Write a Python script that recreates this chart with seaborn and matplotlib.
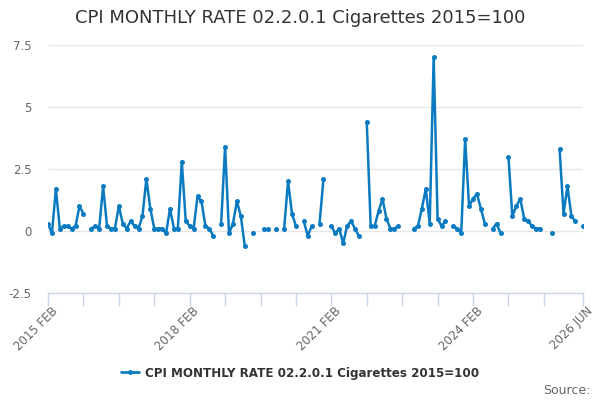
import numpy as np
import pandas as pd
import matplotlib
matplotlib.use("Agg")
import matplotlib.pyplot as plt
import matplotlib.transforms as mtransforms
from matplotlib.lines import Line2D
import seaborn as sns

# ---- data ----
series_name = "CPI MONTHLY RATE 02.2.0.1 Cigarettes 2015=100"
months = pd.period_range("2015-02", "2026-06", freq="M")
month_labels = [p.strftime("%Y %b").upper() for p in months]
nan = np.nan
values = [
    0.3, -0.1, 1.7, 0.1, 0.2, 0.2, 0.1, 0.2, 1.0, 0.7,      # 0-9
    nan, 0.1, 0.2, 0.1, 1.8, 0.2, 0.1, 0.1, 1.0, 0.3,       # 10-19
    0.1, 0.4, 0.2, 0.1, 0.6, 2.1, 0.9, 0.1, 0.1, 0.1,       # 20-29
    -0.1, 0.9, 0.1, 0.1, 2.8, 0.4, 0.2, 0.1, 1.4, 1.2,      # 30-39
    0.2, 0.1, -0.2, nan, 0.3, 3.4, -0.1, 0.3, 1.2, 0.6,     # 40-49
    -0.6, nan, -0.1, nan, nan, 0.1, 0.1, nan, 0.1, nan,     # 50-59
    0.1, 2.0, 0.7, 0.2, nan, 0.4, -0.2, 0.2, nan, 0.3,      # 60-69
    2.1, nan, 0.2, -0.1, 0.1, -0.5, 0.2, 0.4, 0.1, -0.2,    # 70-79
    nan, 4.4, 0.2, 0.2, 0.8, 1.3, 0.5, 0.1, 0.1, 0.2,       # 80-89
    nan, nan, nan, 0.1, 0.2, 0.9, 1.7, 0.3, 7.0, 0.5,       # 90-99
    0.2, 0.4, nan, 0.2, 0.1, -0.1, 3.7, 1.0, 1.3, 1.5,      # 100-109
    0.9, 0.3, nan, 0.1, 0.3, -0.1, nan, 3.0, 0.6, 1.0,      # 110-119
    1.3, 0.5, 0.4, 0.2, 0.1, 0.1, nan, nan, -0.1, nan,      # 120-129
    3.3, 0.7, 1.8, 0.6, 0.4, nan, 0.2,                      # 130-136
]
shown_labels = ["2015 FEB", "2018 FEB", "2021 FEB", "2024 FEB", "2026 JUN"]
y_ticks = [-2.5, 0, 2.5, 5, 7.5]
y_tick_labels = ["-2.5", "0", "2.5", "5", "7.5"]

# ---- table ----
df = pd.DataFrame({"month": month_labels, "value": values})
df["idx"] = np.arange(len(df))
df["seg"] = df["value"].isna().cumsum()
df = df.dropna(subset=["value"])

sns.set_style("white")
plt.rcParams["font.family"] = ["DejaVu Sans"]

color = "#0a7bc1"
fig = plt.figure(figsize=(6, 4), dpi=100)
ax = fig.add_axes([0.08, 0.2675, 0.892, 0.62])

sns.lineplot(data=df, x="idx", y="value", units="seg", estimator=None,
             color=color, lw=1.8, marker="o", markersize=3.6, markeredgewidth=0,
             legend=False, ax=ax)

ax.set_xlim(0, len(month_labels) - 1)
ax.set_ylim(-2.5, 7.5)
ax.set_xlabel("")
ax.set_ylabel("")

ax.set_yticks(y_ticks)
ax.set_yticklabels(y_tick_labels)
ax.yaxis.grid(True, color="#e6e6e6", lw=1)
ax.xaxis.grid(False)
ax.set_axisbelow(True)

tick_pos = list(range(0, len(month_labels) - 9, 9)) + [len(month_labels) - 1]
ax.set_xticks(tick_pos)
lab_pos = [month_labels.index(s) for s in shown_labels]
ax.set_xticklabels([month_labels[p] if p in lab_pos else "" for p in tick_pos],
                   rotation=45, ha="right", rotation_mode="anchor")

for s in ["left", "right", "top"]:
    ax.spines[s].set_visible(False)
ax.spines["bottom"].set_color("#ccd6eb")
ax.spines["bottom"].set_linewidth(1)
ax.tick_params(axis="x", bottom=True, length=9, width=1, color="#ccd6eb",
               labelsize=8.5, labelcolor="#666666", pad=2, direction="out")
ax.tick_params(axis="y", left=False, length=0, labelsize=8.5,
               labelcolor="#666666", pad=12)

offset = mtransforms.ScaledTranslation(3 / 100, 4 / 100, fig.dpi_scale_trans)
for lbl in ax.get_xticklabels():
    lbl.set_transform(lbl.get_transform() + offset)

fig.text(0.5, 1 - 18 / 400, series_name, ha="center", va="center",
         fontsize=13, color="#333333")

handle = Line2D([], [], color=color, lw=2, marker="o", markersize=3.5,
                markeredgewidth=0)
fig.legend([handle], [series_name], loc="center", bbox_to_anchor=(0.5, 1 - 373 / 400),
           frameon=False, handlelength=1.5, handletextpad=0.5,
           prop={"weight": "bold", "size": 8.6}, labelcolor="#333333")

fig.text(590 / 600, 1 - 390 / 400, "Source:", ha="right", va="center",
         fontsize=9, color="#666666")

fig.savefig("out.png", dpi=100)
